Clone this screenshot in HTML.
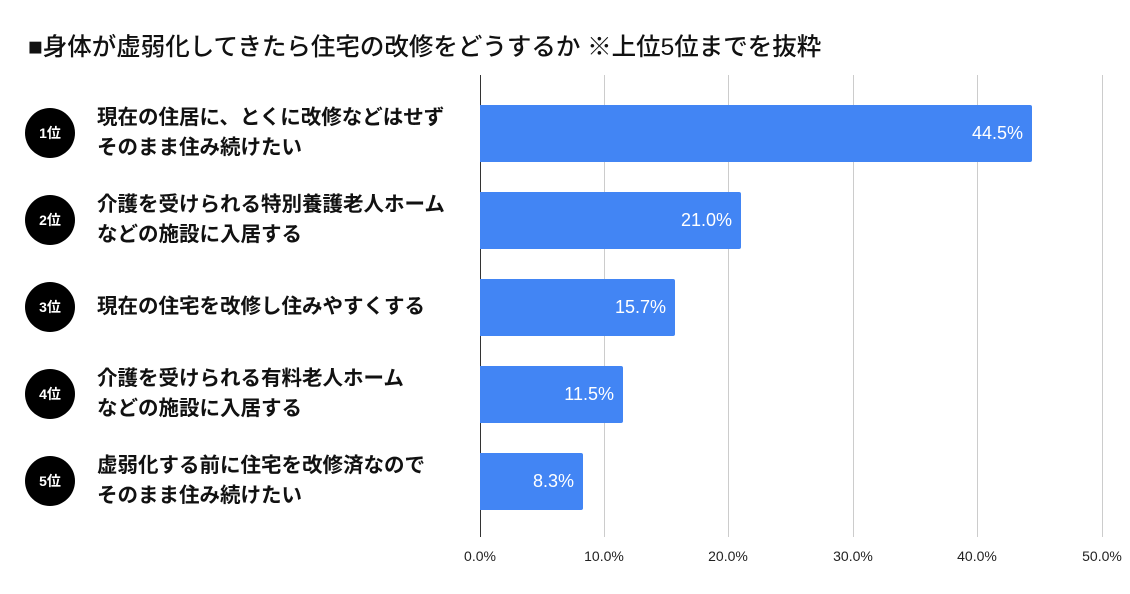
<!DOCTYPE html>
<html><head><meta charset="utf-8"><style>
body{margin:0;width:1130px;height:594px;background:#fff;position:relative;overflow:hidden;font-family:"Liberation Sans","Noto Sans CJK JP",sans-serif;}
.t{position:absolute;left:28px;top:28px;font-size:24.5px;color:#111;white-space:nowrap;font-weight:500}
.c{position:absolute;width:50px;height:50px;border-radius:50%;background:#000;color:#fff;font-size:14px;line-height:50px;text-align:center;left:25px;font-weight:bold}
.l{position:absolute;left:97px;font-size:20.5px;line-height:30px;color:#111;font-weight:bold;white-space:nowrap}
.g{position:absolute;top:75px;height:462px;width:1px;background:#ccc}
.b{position:absolute;left:480px;height:57px;background:#4285f4;border-radius:0 2px 2px 0;color:#fff;font-size:18px;text-align:right;line-height:57px;box-sizing:border-box;padding-right:9px}
.x{position:absolute;top:548px;font-size:14px;color:#222;width:60px;margin-left:-30px;text-align:center}
</style></head><body>
<div class="t">■身体が虚弱化してきたら住宅の改修をどうするか ※上位5位までを抜粋</div>
<div class="g" style="left:604px"></div><div class="g" style="left:728px"></div><div class="g" style="left:853px"></div><div class="g" style="left:977px"></div><div class="g" style="left:1102px"></div>
<div class="g" style="left:480px;background:#333"></div>
<div class="b" style="top:105px;width:552px">44.5%</div>
<div class="b" style="top:192px;width:261px">21.0%</div>
<div class="b" style="top:279px;width:195px">15.7%</div>
<div class="b" style="top:366px;width:143px">11.5%</div>
<div class="b" style="top:453px;width:103px">8.3%</div>
<div class="c" style="top:108px">1位</div><div class="l" style="top:103px">現在の住居に、とくに改修などはせず<br>そのまま住み続けたい</div>
<div class="c" style="top:195px">2位</div><div class="l" style="top:190px">介護を受けられる特別養護老人ホーム<br>などの施設に入居する</div>
<div class="c" style="top:282px">3位</div><div class="l" style="top:292px">現在の住宅を改修し住みやすくする</div>
<div class="c" style="top:369px">4位</div><div class="l" style="top:364px">介護を受けられる有料老人ホーム<br>などの施設に入居する</div>
<div class="c" style="top:456px">5位</div><div class="l" style="top:451px">虚弱化する前に住宅を改修済なので<br>そのまま住み続けたい</div>
<div class="x" style="left:480px">0.0%</div><div class="x" style="left:604px">10.0%</div><div class="x" style="left:728px">20.0%</div><div class="x" style="left:853px">30.0%</div><div class="x" style="left:977px">40.0%</div><div class="x" style="left:1102px">50.0%</div>
</body></html>
